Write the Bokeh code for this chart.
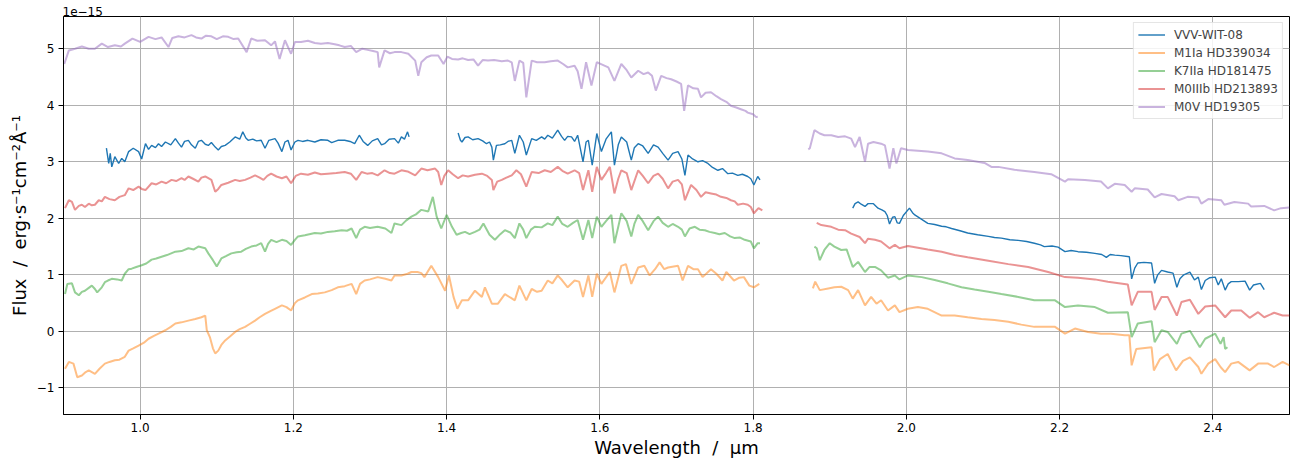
import math
from bokeh.plotting import figure
from bokeh.models import Legend, LegendItem, FixedTicker, CustomJSTickFormatter, Range1d
from bokeh.embed import file_html
from bokeh.resources import INLINE

# ---------------- data (flux in units of 1e-15 erg s^-1 cm^-2 A^-1) ----------------
SCALE_TEXT = "1e\u221215"
X_TICKS = [1.0, 1.2, 1.4, 1.6, 1.8, 2.0, 2.2, 2.4]
Y_TICKS = [-1, 0, 1, 2, 3, 4, 5]
NAMES = ["VVV-WIT-08", "M1Ia HD339034", "K7IIa HD181475", "M0IIIb HD213893", "M0V HD19305"]
COLORS = ["#1f77b4", "#ff7f0e", "#2ca02c", "#d62728", "#9467bd"]

VVV_SEGS = [
    [(0.956, 3.24), (0.959, 2.97), (0.961, 3.15), (0.963, 2.91), (0.967, 3.09), (0.972, 2.97), (0.976, 3.06),
     (0.98, 3.0), (0.985, 3.18), (0.991, 3.24), (0.998, 3.18), (1.002, 3.05), (1.007, 3.32), (1.011, 3.22),
     (1.015, 3.29), (1.02, 3.25), (1.024, 3.32), (1.028, 3.27), (1.033, 3.35), (1.04, 3.3), (1.046, 3.41),
     (1.05, 3.33), (1.054, 3.26), (1.058, 3.36), (1.063, 3.38), (1.067, 3.3), (1.072, 3.24), (1.076, 3.36),
     (1.08, 3.38), (1.085, 3.31), (1.089, 3.29), (1.093, 3.34), (1.098, 3.26), (1.102, 3.21), (1.106, 3.27),
     (1.111, 3.29), (1.117, 3.35), (1.124, 3.44), (1.13, 3.4), (1.134, 3.53), (1.138, 3.42), (1.141, 3.38),
     (1.147, 3.4), (1.152, 3.37), (1.158, 3.38), (1.163, 3.24), (1.168, 3.38), (1.176, 3.41), (1.18, 3.33),
     (1.185, 3.18), (1.189, 3.35), (1.193, 3.38), (1.197, 3.21), (1.202, 3.35), (1.206, 3.38), (1.212, 3.36),
     (1.219, 3.38), (1.228, 3.35), (1.236, 3.39), (1.245, 3.38), (1.25, 3.34), (1.258, 3.38), (1.267, 3.38),
     (1.274, 3.36), (1.28, 3.32), (1.286, 3.47), (1.291, 3.36), (1.297, 3.29), (1.303, 3.37), (1.31, 3.41),
     (1.315, 3.3), (1.319, 3.32), (1.325, 3.4), (1.332, 3.41), (1.337, 3.33), (1.341, 3.44), (1.345, 3.4),
     (1.349, 3.53), (1.351, 3.44)],
    [(1.415, 3.51), (1.418, 3.38), (1.42, 3.35), (1.424, 3.43), (1.428, 3.44), (1.434, 3.39), (1.441, 3.41),
     (1.447, 3.37), (1.452, 3.32), (1.456, 3.35), (1.459, 3.26), (1.461, 3.03), (1.465, 3.29), (1.47, 3.3),
     (1.476, 3.32), (1.48, 3.36), (1.485, 3.38), (1.489, 3.15), (1.495, 3.47), (1.5, 3.35), (1.504, 3.12),
     (1.511, 3.41), (1.517, 3.38), (1.524, 3.44), (1.528, 3.4), (1.532, 3.47), (1.538, 3.42), (1.545, 3.56),
     (1.55, 3.45), (1.554, 3.38), (1.558, 3.45), (1.563, 3.44), (1.567, 3.36), (1.571, 3.47), (1.578, 3.0),
     (1.582, 3.35), (1.585, 3.38), (1.59, 2.94), (1.596, 3.5), (1.602, 3.18), (1.608, 3.4), (1.615, 3.53),
     (1.619, 2.94), (1.624, 3.3), (1.628, 3.44), (1.635, 3.35), (1.641, 3.03), (1.645, 3.25), (1.65, 3.32),
     (1.656, 3.28), (1.663, 3.15), (1.67, 3.3), (1.676, 3.26), (1.682, 3.15), (1.689, 3.03), (1.695, 3.15),
     (1.702, 3.18), (1.707, 3.05), (1.711, 2.76), (1.715, 3.12), (1.721, 3.05), (1.728, 3.0), (1.734, 3.02),
     (1.741, 2.97), (1.747, 2.9), (1.754, 2.85), (1.76, 2.88), (1.767, 2.79), (1.773, 2.8), (1.78, 2.76),
     (1.786, 2.78), (1.793, 2.74), (1.797, 2.7), (1.801, 2.59), (1.806, 2.74), (1.809, 2.68)],
    [(1.93, 2.18), (1.933, 2.26), (1.937, 2.29), (1.941, 2.25), (1.946, 2.21), (1.95, 2.26), (1.957, 2.26),
     (1.963, 2.18), (1.968, 2.15), (1.972, 2.12), (1.975, 2.05), (1.978, 1.9), (1.982, 2.02), (1.985, 2.03),
     (1.988, 1.92), (1.991, 1.91), (1.996, 2.05), (2.004, 2.18), (2.008, 2.1), (2.011, 2.06), (2.02, 1.98),
     (2.028, 1.91), (2.037, 1.89), (2.046, 1.86), (2.052, 1.85), (2.059, 1.82), (2.07, 1.78), (2.08, 1.74),
     (2.093, 1.71), (2.107, 1.68), (2.115, 1.66), (2.124, 1.65), (2.135, 1.62), (2.146, 1.61), (2.157, 1.59),
     (2.167, 1.56), (2.175, 1.53), (2.18, 1.5), (2.19, 1.51), (2.198, 1.49), (2.207, 1.41), (2.215, 1.43),
     (2.224, 1.41), (2.235, 1.4), (2.246, 1.38), (2.255, 1.36), (2.261, 1.31), (2.266, 1.36), (2.272, 1.35),
     (2.28, 1.34), (2.291, 1.32), (2.294, 0.93), (2.298, 1.12), (2.302, 1.21), (2.31, 1.22), (2.32, 1.21),
     (2.324, 0.85), (2.328, 1.0), (2.333, 1.08), (2.341, 1.05), (2.348, 1.03), (2.353, 0.78), (2.357, 0.93),
     (2.362, 1.0), (2.37, 1.05), (2.376, 0.91), (2.381, 0.96), (2.385, 0.74), (2.39, 0.9), (2.396, 0.95),
     (2.403, 0.96), (2.407, 0.82), (2.411, 0.93), (2.416, 0.73), (2.42, 0.84), (2.424, 0.88), (2.433, 0.88),
     (2.442, 0.89), (2.448, 0.73), (2.453, 0.82), (2.462, 0.85), (2.467, 0.74)],
]

M1IA_SEGS = [
    [(0.902, -0.66), (0.907, -0.54), (0.913, -0.57), (0.918, -0.81), (0.924, -0.78), (0.929, -0.72),
     (0.933, -0.69), (0.937, -0.72), (0.941, -0.75), (0.947, -0.66), (0.954, -0.57), (0.96, -0.54),
     (0.967, -0.51), (0.973, -0.5), (0.98, -0.45), (0.985, -0.34), (0.991, -0.3), (0.998, -0.25),
     (1.005, -0.2), (1.011, -0.13), (1.018, -0.08), (1.024, -0.04), (1.033, 0.02), (1.04, 0.08),
     (1.046, 0.14), (1.054, 0.16), (1.063, 0.19), (1.072, 0.22), (1.08, 0.25), (1.085, 0.28), (1.087, 0.02),
     (1.091, -0.1), (1.095, -0.3), (1.098, -0.39), (1.102, -0.34), (1.106, -0.24), (1.111, -0.16),
     (1.118, -0.08), (1.124, -0.01), (1.13, 0.04), (1.137, 0.08), (1.144, 0.14), (1.15, 0.19), (1.156, 0.25),
     (1.163, 0.31), (1.17, 0.36), (1.176, 0.4), (1.185, 0.46), (1.191, 0.43), (1.197, 0.37), (1.202, 0.5),
     (1.206, 0.55), (1.215, 0.6), (1.224, 0.66), (1.232, 0.67), (1.241, 0.69), (1.25, 0.73), (1.258, 0.78),
     (1.267, 0.8), (1.276, 0.84), (1.282, 0.66), (1.287, 0.84), (1.293, 0.9), (1.3, 0.92), (1.31, 0.96),
     (1.32, 0.93), (1.328, 0.9), (1.332, 0.99), (1.341, 0.99), (1.349, 1.02), (1.354, 1.05), (1.362, 1.05),
     (1.367, 1.03), (1.371, 0.96), (1.38, 1.16), (1.389, 0.96), (1.398, 0.72), (1.403, 0.99), (1.409, 0.61),
     (1.414, 0.4), (1.42, 0.55), (1.428, 0.55), (1.437, 0.72), (1.446, 0.61), (1.45, 0.78), (1.459, 0.49),
     (1.467, 0.49), (1.476, 0.66), (1.483, 0.6), (1.489, 0.55), (1.495, 0.81), (1.504, 0.55), (1.511, 0.75),
     (1.518, 0.7), (1.524, 0.72), (1.532, 0.9), (1.538, 0.85), (1.545, 0.99), (1.551, 0.9), (1.558, 0.78),
     (1.567, 0.9), (1.573, 0.88), (1.578, 0.61), (1.585, 0.99), (1.59, 0.61), (1.596, 1.02), (1.602, 0.84),
     (1.613, 1.05), (1.619, 0.69), (1.628, 1.16), (1.634, 1.19), (1.641, 0.84), (1.65, 1.13), (1.658, 1.16),
     (1.665, 0.99), (1.672, 1.1), (1.678, 1.22), (1.684, 1.1), (1.689, 1.13), (1.702, 1.16), (1.708, 0.9),
     (1.715, 1.16), (1.722, 1.1), (1.728, 1.1), (1.734, 0.96), (1.745, 1.1), (1.752, 1.02), (1.76, 0.9),
     (1.765, 1.05), (1.775, 0.9), (1.782, 0.95), (1.788, 0.96), (1.795, 0.81), (1.801, 0.78), (1.808, 0.84)],
    [(1.878, 0.76), (1.881, 0.88), (1.887, 0.73), (1.898, 0.76), (1.906, 0.78), (1.915, 0.79), (1.924, 0.73),
     (1.93, 0.58), (1.937, 0.73), (1.946, 0.46), (1.954, 0.61), (1.961, 0.49), (1.967, 0.55), (1.976, 0.37),
     (1.985, 0.46), (1.991, 0.34), (2.002, 0.4), (2.015, 0.43), (2.028, 0.4), (2.046, 0.28), (2.063, 0.28),
     (2.08, 0.25), (2.098, 0.22), (2.115, 0.2), (2.133, 0.17), (2.15, 0.12), (2.167, 0.08), (2.194, 0.08),
     (2.207, -0.04), (2.22, 0.05), (2.237, -0.01), (2.254, -0.04), (2.267, -0.04), (2.285, -0.07),
     (2.291, -0.07), (2.294, -0.6), (2.3, -0.31), (2.32, -0.28), (2.323, -0.69), (2.331, -0.49), (2.341, -0.4),
     (2.352, -0.69), (2.361, -0.52), (2.37, -0.46), (2.381, -0.63), (2.385, -0.75), (2.394, -0.57),
     (2.403, -0.49), (2.41, -0.63), (2.416, -0.72), (2.424, -0.57), (2.433, -0.54), (2.448, -0.69),
     (2.459, -0.57), (2.472, -0.57), (2.48, -0.63), (2.491, -0.54), (2.5, -0.6)],
]

K7IIA_SEGS = [
    [(0.902, 0.66), (0.905, 0.84), (0.911, 0.85), (0.915, 0.69), (0.92, 0.64), (0.924, 0.7), (0.928, 0.72),
     (0.933, 0.77), (0.937, 0.81), (0.941, 0.75), (0.944, 0.69), (0.95, 0.78), (0.954, 0.87), (0.958, 0.9),
     (0.963, 0.93), (0.97, 0.92), (0.976, 0.9), (0.98, 1.02), (0.985, 1.1), (0.989, 1.11), (0.995, 1.14),
     (1.002, 1.17), (1.008, 1.2), (1.015, 1.27), (1.021, 1.29), (1.028, 1.32), (1.035, 1.35), (1.046, 1.41),
     (1.054, 1.42), (1.063, 1.47), (1.07, 1.45), (1.076, 1.5), (1.085, 1.47), (1.089, 1.38), (1.095, 1.26),
     (1.1, 1.15), (1.106, 1.29), (1.112, 1.33), (1.119, 1.38), (1.126, 1.4), (1.132, 1.41), (1.138, 1.46),
     (1.145, 1.5), (1.152, 1.52), (1.158, 1.56), (1.163, 1.41), (1.167, 1.55), (1.171, 1.62), (1.178, 1.58),
     (1.185, 1.62), (1.191, 1.6), (1.197, 1.53), (1.202, 1.62), (1.206, 1.68), (1.215, 1.7), (1.228, 1.74),
     (1.236, 1.73), (1.245, 1.76), (1.254, 1.77), (1.263, 1.79), (1.27, 1.78), (1.276, 1.82), (1.282, 1.65),
     (1.287, 1.8), (1.293, 1.85), (1.3, 1.83), (1.31, 1.85), (1.32, 1.82), (1.328, 1.74), (1.332, 1.91),
     (1.341, 1.88), (1.347, 1.96), (1.354, 2.03), (1.36, 2.07), (1.367, 2.15), (1.376, 2.12), (1.382, 2.38),
     (1.387, 2.03), (1.393, 1.82), (1.4, 2.06), (1.407, 1.85), (1.413, 1.71), (1.419, 1.74), (1.424, 1.76),
     (1.43, 1.72), (1.437, 1.76), (1.443, 1.8), (1.448, 1.91), (1.456, 1.71), (1.463, 1.62), (1.47, 1.72),
     (1.476, 1.79), (1.483, 1.75), (1.489, 1.65), (1.495, 1.91), (1.5, 1.8), (1.504, 1.65), (1.51, 1.8),
     (1.515, 1.85), (1.524, 1.84), (1.532, 1.91), (1.538, 1.88), (1.545, 2.03), (1.551, 1.9), (1.558, 1.85),
     (1.565, 1.92), (1.571, 1.97), (1.578, 1.62), (1.585, 1.97), (1.59, 1.65), (1.596, 2.03), (1.602, 1.85),
     (1.608, 1.95), (1.615, 2.06), (1.619, 1.56), (1.624, 1.85), (1.628, 2.09), (1.635, 1.95), (1.641, 1.68),
     (1.645, 1.9), (1.65, 2.06), (1.656, 1.95), (1.663, 1.79), (1.67, 1.95), (1.676, 2.03), (1.682, 1.92),
     (1.689, 1.85), (1.695, 1.9), (1.702, 1.85), (1.707, 1.8), (1.711, 1.68), (1.717, 1.82), (1.724, 1.85),
     (1.73, 1.8), (1.737, 1.79), (1.743, 1.76), (1.75, 1.74), (1.756, 1.72), (1.763, 1.74), (1.77, 1.68),
     (1.776, 1.65), (1.783, 1.66), (1.789, 1.62), (1.797, 1.59), (1.801, 1.47), (1.806, 1.56), (1.809, 1.56)],
    [(1.88, 1.5), (1.883, 1.47), (1.887, 1.26), (1.893, 1.44), (1.9, 1.56), (1.906, 1.5), (1.915, 1.44),
     (1.922, 1.45), (1.93, 1.14), (1.937, 1.23), (1.946, 1.05), (1.952, 1.14), (1.959, 1.14), (1.967, 1.08),
     (1.976, 0.95), (1.985, 0.99), (1.991, 0.92), (2.002, 0.99), (2.02, 0.96), (2.037, 0.91), (2.054, 0.85),
     (2.072, 0.78), (2.089, 0.74), (2.107, 0.7), (2.124, 0.66), (2.146, 0.61), (2.167, 0.55), (2.194, 0.55),
     (2.207, 0.43), (2.224, 0.46), (2.246, 0.43), (2.263, 0.33), (2.289, 0.34), (2.294, -0.1), (2.302, 0.14),
     (2.32, 0.18), (2.324, -0.19), (2.333, 0.02), (2.341, -0.01), (2.353, -0.22), (2.359, -0.04),
     (2.37, 0.01), (2.383, -0.28), (2.39, -0.13), (2.403, -0.04), (2.41, -0.22), (2.414, -0.1),
     (2.416, -0.31), (2.419, -0.28)],
]

M0IIIB_SEGS = [
    [(0.902, 2.18), (0.907, 2.32), (0.911, 2.29), (0.915, 2.15), (0.92, 2.22), (0.924, 2.24), (0.928, 2.2),
     (0.933, 2.26), (0.937, 2.23), (0.941, 2.24), (0.946, 2.32), (0.95, 2.3), (0.954, 2.38), (0.96, 2.34),
     (0.967, 2.32), (0.973, 2.38), (0.98, 2.41), (0.985, 2.53), (0.991, 2.5), (0.998, 2.56), (1.002, 2.52),
     (1.007, 2.5), (1.015, 2.62), (1.021, 2.6), (1.028, 2.65), (1.034, 2.62), (1.041, 2.68), (1.047, 2.66),
     (1.054, 2.71), (1.058, 2.68), (1.063, 2.74), (1.069, 2.7), (1.076, 2.65), (1.08, 2.72), (1.085, 2.74),
     (1.093, 2.68), (1.098, 2.47), (1.102, 2.52), (1.106, 2.59), (1.115, 2.63), (1.124, 2.68), (1.13, 2.66),
     (1.137, 2.68), (1.144, 2.72), (1.15, 2.76), (1.156, 2.72), (1.161, 2.68), (1.166, 2.75), (1.171, 2.79),
     (1.178, 2.74), (1.185, 2.71), (1.191, 2.74), (1.197, 2.62), (1.203, 2.75), (1.21, 2.79), (1.219, 2.77),
     (1.228, 2.81), (1.236, 2.78), (1.245, 2.79), (1.256, 2.8), (1.267, 2.82), (1.275, 2.79), (1.282, 2.68),
     (1.289, 2.82), (1.296, 2.79), (1.303, 2.8), (1.31, 2.76), (1.319, 2.85), (1.326, 2.8), (1.332, 2.79),
     (1.341, 2.85), (1.349, 2.83), (1.359, 2.76), (1.367, 2.88), (1.375, 2.85), (1.385, 2.88), (1.389, 2.82),
     (1.393, 2.59), (1.397, 2.75), (1.402, 2.85), (1.408, 2.78), (1.415, 2.71), (1.421, 2.76), (1.428, 2.74),
     (1.437, 2.77), (1.446, 2.79), (1.453, 2.75), (1.459, 2.68), (1.461, 2.5), (1.466, 2.65), (1.472, 2.68),
     (1.478, 2.72), (1.485, 2.76), (1.491, 2.85), (1.497, 2.78), (1.504, 2.56), (1.511, 2.82), (1.52, 2.8),
     (1.528, 2.85), (1.536, 2.82), (1.545, 2.91), (1.551, 2.84), (1.558, 2.79), (1.567, 2.85), (1.573, 2.8),
     (1.578, 2.5), (1.585, 2.85), (1.59, 2.47), (1.596, 2.91), (1.602, 2.68), (1.608, 2.8), (1.613, 2.91),
     (1.619, 2.44), (1.624, 2.7), (1.628, 2.85), (1.635, 2.8), (1.641, 2.5), (1.65, 2.85), (1.656, 2.75),
     (1.663, 2.62), (1.67, 2.75), (1.676, 2.79), (1.682, 2.7), (1.689, 2.53), (1.695, 2.65), (1.702, 2.68),
     (1.707, 2.6), (1.711, 2.32), (1.719, 2.59), (1.726, 2.5), (1.732, 2.38), (1.738, 2.46), (1.745, 2.44),
     (1.752, 2.42), (1.758, 2.38), (1.765, 2.36), (1.771, 2.32), (1.776, 2.3), (1.78, 2.24), (1.787, 2.26),
     (1.793, 2.24), (1.797, 2.2), (1.801, 2.09), (1.807, 2.18), (1.812, 2.14)],
    [(1.883, 1.92), (1.889, 1.88), (1.902, 1.85), (1.911, 1.8), (1.92, 1.79), (1.928, 1.73), (1.939, 1.67),
     (1.946, 1.56), (1.95, 1.64), (1.959, 1.62), (1.967, 1.59), (1.978, 1.47), (1.985, 1.53), (1.991, 1.47),
     (2.002, 1.51), (2.028, 1.45), (2.046, 1.41), (2.063, 1.35), (2.08, 1.31), (2.107, 1.25), (2.133, 1.19),
     (2.159, 1.14), (2.185, 1.05), (2.207, 0.96), (2.224, 0.95), (2.246, 0.92), (2.263, 0.88), (2.289, 0.83),
     (2.294, 0.46), (2.302, 0.7), (2.32, 0.7), (2.324, 0.38), (2.333, 0.61), (2.341, 0.61), (2.353, 0.28),
     (2.359, 0.52), (2.37, 0.56), (2.381, 0.31), (2.39, 0.44), (2.403, 0.46), (2.416, 0.25), (2.424, 0.37),
     (2.437, 0.37), (2.448, 0.24), (2.459, 0.34), (2.467, 0.25), (2.48, 0.33), (2.491, 0.28), (2.5, 0.28)],
]

M0V_SEGS = [
    [(0.901, 4.73), (0.907, 4.97), (0.915, 5.0), (0.924, 5.04), (0.933, 5.0), (0.941, 5.0), (0.95, 5.09),
     (0.958, 5.03), (0.967, 5.06), (0.975, 5.04), (0.98, 5.09), (0.99, 5.18), (1.0, 5.12), (1.011, 5.21),
     (1.02, 5.17), (1.028, 5.2), (1.037, 5.03), (1.042, 5.19), (1.05, 5.22), (1.058, 5.2), (1.067, 5.24),
     (1.073, 5.2), (1.08, 5.18), (1.086, 5.23), (1.093, 5.22), (1.1, 5.17), (1.108, 5.22), (1.115, 5.21),
     (1.122, 5.17), (1.128, 5.18), (1.139, 4.94), (1.145, 5.18), (1.153, 5.14), (1.163, 5.15), (1.171, 5.06),
     (1.176, 5.13), (1.182, 4.82), (1.189, 5.15), (1.197, 4.91), (1.202, 5.12), (1.21, 5.12), (1.219, 5.14),
     (1.228, 5.1), (1.236, 5.09), (1.245, 5.1), (1.254, 5.08), (1.26, 5.06), (1.267, 5.03), (1.275, 5.05),
     (1.282, 4.94), (1.29, 5.0), (1.297, 4.98), (1.304, 4.96), (1.31, 4.94), (1.312, 4.67), (1.319, 4.97),
     (1.326, 4.92), (1.332, 4.94), (1.341, 4.94), (1.35, 4.91), (1.359, 4.79), (1.363, 4.52), (1.367, 4.76),
     (1.374, 4.85), (1.38, 4.88), (1.389, 4.88), (1.396, 4.73), (1.401, 4.86), (1.407, 4.82), (1.415, 4.81),
     (1.421, 4.83), (1.428, 4.8), (1.435, 4.81), (1.441, 4.7), (1.447, 4.8), (1.454, 4.79), (1.462, 4.8),
     (1.472, 4.78), (1.48, 4.79), (1.485, 4.76), (1.489, 4.43), (1.495, 4.79), (1.5, 4.75), (1.504, 4.14),
     (1.511, 4.79), (1.518, 4.76), (1.528, 4.76), (1.536, 4.78), (1.545, 4.79), (1.552, 4.73), (1.558, 4.67),
     (1.567, 4.7), (1.571, 4.6), (1.576, 4.29), (1.582, 4.76), (1.589, 4.35), (1.596, 4.76), (1.603, 4.72),
     (1.611, 4.67), (1.619, 4.43), (1.628, 4.73), (1.635, 4.62), (1.641, 4.49), (1.65, 4.61), (1.657, 4.55),
     (1.663, 4.58), (1.668, 4.52), (1.673, 4.26), (1.68, 4.52), (1.687, 4.48), (1.693, 4.46), (1.7, 4.42),
     (1.706, 4.38), (1.71, 3.9), (1.715, 4.35), (1.722, 4.3), (1.728, 4.29), (1.732, 4.14), (1.738, 4.22),
     (1.745, 4.23), (1.752, 4.16), (1.758, 4.11), (1.765, 4.06), (1.771, 3.99), (1.778, 3.96), (1.784, 3.93),
     (1.79, 3.9), (1.793, 3.87), (1.8, 3.84), (1.804, 3.79), (1.806, 3.8)],
    [(1.872, 3.22), (1.874, 3.24), (1.88, 3.56), (1.887, 3.5), (1.893, 3.47), (1.902, 3.47), (1.911, 3.44),
     (1.92, 3.45), (1.928, 3.41), (1.933, 3.26), (1.939, 3.44), (1.946, 3.0), (1.95, 3.32), (1.957, 3.35),
     (1.967, 3.32), (1.972, 3.29), (1.978, 2.88), (1.983, 3.24), (1.987, 2.97), (1.993, 3.24), (2.002, 3.21),
     (2.028, 3.18), (2.046, 3.15), (2.063, 3.06), (2.08, 3.03), (2.102, 2.98), (2.111, 2.91), (2.12, 2.91),
     (2.141, 2.86), (2.167, 2.82), (2.189, 2.78), (2.207, 2.65), (2.211, 2.69), (2.233, 2.68), (2.254, 2.65),
     (2.263, 2.53), (2.272, 2.61), (2.285, 2.59), (2.294, 2.47), (2.298, 2.53), (2.315, 2.51), (2.324, 2.37),
     (2.333, 2.43), (2.35, 2.39), (2.355, 2.32), (2.367, 2.38), (2.381, 2.37), (2.385, 2.26), (2.394, 2.34),
     (2.411, 2.32), (2.415, 2.24), (2.428, 2.29), (2.446, 2.26), (2.45, 2.21), (2.467, 2.22), (2.48, 2.14),
     (2.489, 2.18), (2.5, 2.19)],
]

SERIES = [VVV_SEGS, M1IA_SEGS, K7IIA_SEGS, M0IIIB_SEGS, M0V_SEGS]
ALPHAS = [1.0, 0.5, 0.5, 0.5, 0.5]
WIDTHS = [1.4, 2.0, 2.0, 2.0, 2.0]


def join_segments(segs):
    xs, ys = [], []
    for i, seg in enumerate(segs):
        if i > 0:
            xs.append(math.nan)
            ys.append(math.nan)
        xs.extend(pt[0] for pt in seg)
        ys.extend(pt[1] for pt in seg)
    return xs, ys


FONT = "DejaVu Sans"
NB = "\u00a0"

p = figure(width=1298, height=464, output_backend="svg", toolbar_location=None,
           x_range=Range1d(0.9, 2.5), y_range=Range1d(-1.47, 5.57))
p.min_border_left = 63
p.min_border_right = 9
p.min_border_top = 16
p.min_border_bottom = 50
p.background_fill_color = "white"
p.border_fill_color = "white"
p.outline_line_color = "black"
p.outline_line_width = 1
p.outline_line_alpha = 1.0

# offset-scale text shown above the top-left corner of the axes
p.title.text = SCALE_TEXT
p.title.align = "left"
p.title.text_font = FONT
p.title.text_font_size = "12px"
p.title.text_font_style = "normal"
p.title.text_color = "black"
p.title.standoff = 1
p.title.offset = -1

renderers = []
for segs, col, a, w in zip(SERIES, COLORS, ALPHAS, WIDTHS):
    xs, ys = join_segments(segs)
    r = p.line(xs, ys, line_color=col, line_alpha=a, line_width=w)
    renderers.append(r)

for ax in (p.xaxis[0], p.yaxis[0]):
    ax.axis_line_color = "black"
    ax.major_tick_line_color = "black"
    ax.major_tick_out = 5
    ax.major_tick_in = 0
    ax.minor_tick_line_color = None
    ax.major_label_text_font = FONT
    ax.major_label_text_font_size = "12px"
    ax.major_label_text_color = "black"
    ax.axis_label_text_font = FONT
    ax.axis_label_text_font_size = "18px"
    ax.axis_label_text_font_style = "normal"
    ax.axis_label_text_color = "black"

p.xaxis.ticker = FixedTicker(ticks=X_TICKS)
p.yaxis.ticker = FixedTicker(ticks=Y_TICKS)
p.xaxis.formatter = CustomJSTickFormatter(code="return tick.toFixed(1);")
p.yaxis.formatter = CustomJSTickFormatter(
    code="return (tick < 0 ? '\\u2212' : '') + Math.abs(tick).toFixed(0);")
p.xaxis.major_label_standoff = 3
p.yaxis.major_label_standoff = 4
p.xaxis.axis_label = "Wavelength" + NB + NB + "/" + NB + NB + "\u03bcm"
p.yaxis.axis_label = "Flux" + NB + NB + "/" + NB + NB + "erg\u00b7s\u207b\u00b9cm\u207b\u00b2\u00c5\u207b\u00b9"
p.xaxis.axis_label_standoff = 2
p.yaxis.axis_label_standoff = 4

p.grid.grid_line_color = "#b0b0b0"
p.grid.grid_line_width = 1
p.grid.grid_line_alpha = 1.0

legend = Legend(items=[LegendItem(label=n, renderers=[r]) for n, r in zip(NAMES, renderers)],
                location="top_right")
legend.label_text_font = FONT
legend.label_text_font_size = "12px"
legend.label_height = 15
legend.glyph_height = 15
legend.glyph_width = 27
legend.label_standoff = 9
legend.spacing = 3
legend.padding = 4
legend.margin = 6
legend.border_line_color = "#cccccc"
legend.border_line_width = 1
legend.background_fill_alpha = 0.85
p.add_layout(legend)

open("out.html", "w").write(file_html(p, INLINE))
